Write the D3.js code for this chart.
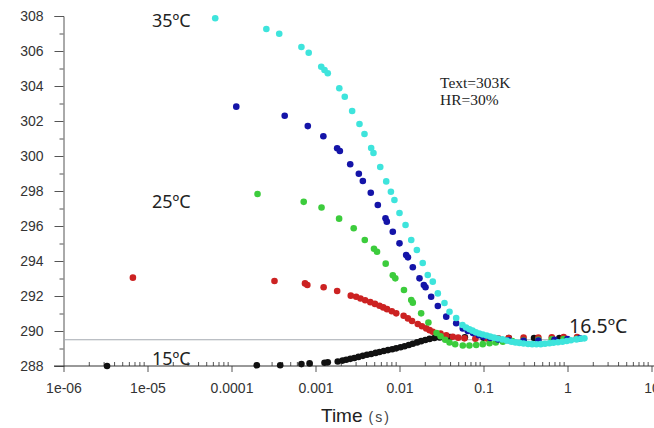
<!DOCTYPE html>
<html>
<head>
<meta charset="utf-8">
<script src="https://cdn.jsdelivr.net/npm/d3@7"></script>
<style>
  body { margin: 0; background: #fff; }
  svg { display: block; }
</style>
</head>
<body>
<div id="chart"></div>
<script>
// readings: [time (s), temperature (K)]
const s35 = [[6.4e-5,307.87],[2.6e-4,307.26],[3.7e-4,306.99],[6.8e-4,306.23],[8.3e-4,305.90],[1.17e-3,305.10],
  [1.28e-3,304.91],[1.40e-3,304.73],[1.92e-3,303.87],[2.23e-3,303.39],[2.73e-3,302.57],[3.34e-3,301.83],
  [3.83e-3,301.26],[4.6e-3,300.46],[4.9e-3,300.17],[5.9e-3,299.37],[6.95e-3,298.55],[7.9e-3,297.96],
  [8.7e-3,297.49],[0.0100,296.74],[0.0118,296.06],[0.0138,295.2],[0.0161,294.63],[0.0189,293.89],
  [0.0217,293.2],[0.0249,292.82],[0.0286,292.15],[0.0343,291.6],[0.0394,291.1],[0.0473,290.74],
  [0.0562,290.34],[0.062,290.2],[0.068,290.1],[0.074,290.02],[0.081,289.93],[0.089,289.86],[0.098,289.8],
  [0.109,289.74],[0.12,289.68],[0.133,289.62],[0.148,289.57],[0.168,289.52],[0.19,289.45],[0.215,289.39],
  [0.24,289.35],[0.268,289.32],[0.3,289.29],[0.34,289.26],[0.38,289.25],[0.427,289.24],[0.48,289.25],
  [0.54,289.27],[0.61,289.3],[0.68,289.33],[0.77,289.36],[0.87,289.39],[0.98,289.43],[1.1,289.47],
  [1.28,289.52],[1.45,289.56],[1.59,289.58]]

const s30 = [[1.14e-4,302.82],[4.3e-4,302.30],[8.1e-4,301.71],[1.24e-3,301.13],[1.81e-3,300.44],[1.95e-3,300.29],
  [2.59e-3,299.53],[3.28e-3,298.99],[3.66e-3,298.57],[4.55e-3,297.90],[5.52e-3,297.2],[6.81e-3,296.44],
  [7.06e-3,296.25],[8.32e-3,295.67],[0.0100,295.01],[0.0120,294.34],[0.0126,294.21],[0.0144,293.64],
  [0.0173,293.01],[0.0195,292.63],[0.0204,292.50],[0.0238,291.96],[0.0286,291.43],[0.036,290.82],
  [0.0473,290.44],[0.0567,290.15],[0.065,290.0],[0.075,289.88],[0.088,289.76],[0.1,289.68],[0.12,289.6],
  [0.15,289.52],[0.2,289.47],[0.3,289.44],[0.45,289.45],[0.7,289.5],[1.0,289.54],[1.4,289.58]]

const s25 = [[2.04e-4,297.83],[7.24e-4,297.38],[1.18e-3,297.06],[1.91e-3,296.42],[2.85e-3,295.87],[3.86e-3,295.2],
  [4.97e-3,294.70],[5.40e-3,294.53],[6.85e-3,293.85],[8.32e-3,293.18],[8.91e-3,293.01],[0.0113,292.34],
  [0.0138,291.77],[0.0144,291.62],[0.0181,291.01],[0.0221,290.49],[0.0276,289.89],[0.0308,289.7],
  [0.035,289.5],[0.0394,289.34],[0.046,289.24],[0.0567,289.17],[0.068,289.17],[0.0819,289.2],[0.098,289.25],
  [0.118,289.30],[0.14,289.35],[0.170,289.39],[0.22,289.43],[0.3,289.46],[0.45,289.5],[0.65,289.52],
  [0.9,289.54],[1.3,289.56]]

const s20 = [[6.7e-6,293.05],[3.25e-4,292.86],[7.5e-4,292.72],[8.0e-4,292.63],[1.25e-3,292.50],[1.81e-3,292.29],
  [2.63e-3,292.02],[3.05e-3,291.96],[3.43e-3,291.86],[3.9e-3,291.76],[4.49e-3,291.65],[5.1e-3,291.55],
  [5.78e-3,291.44],[6.4e-3,291.35],[7.1e-3,291.25],[8.1e-3,291.13],[9.14e-3,291.01],[0.0112,290.87],
  [0.0126,290.72],[0.0141,290.57],[0.0165,290.4],[0.0185,290.27],[0.0208,290.15],[0.0228,290.05],
  [0.0249,289.96],[0.0308,289.85],[0.036,289.76],[0.0431,289.67],[0.05,289.62],[0.0594,289.58],[0.08,289.56],
  [0.11,289.57],[0.15,289.58],[0.2,289.6],[0.3,289.62],[0.45,289.63],[0.65,289.64],[0.9,289.65],[1.3,289.65]]

const s15 = [[3.3e-6,288.0],[2.0e-4,288.04],[3.8e-4,288.04],[6.8e-4,288.11],[8.5e-4,288.15],[1.28e-3,288.19],
  [1.4e-3,288.21],[1.84e-3,288.26],[2.1e-3,288.31],[2.32e-3,288.36],[2.6e-3,288.41],[2.9e-3,288.46],
  [3.25e-3,288.52],[3.66e-3,288.58],[4.1e-3,288.64],[4.6e-3,288.69],[5.2e-3,288.75],[5.78e-3,288.8],
  [6.5e-3,288.86],[7.3e-3,288.91],[8.2e-3,288.96],[9.14e-3,289.01],[0.0103,289.07],[0.0115,289.13],
  [0.0129,289.2],[0.0144,289.27],[0.0162,289.35],[0.0181,289.42],[0.0203,289.49],[0.0228,289.55],
  [0.026,289.6],[0.03,289.63],[0.04,289.65],[0.06,289.64],[0.1,289.62],[0.2,289.6],[0.4,289.6],
  [0.8,289.6],[1.3,289.6]]

const seriesColours = ["#111111", "#cc2222", "#3ccc3c", "#1414a8", "#3ee4dc"]
const xTicks = [1e-6, 1e-5, 1e-4, 1e-3, 1e-2, 0.1, 1, 10]
const xTickLabels = ["1e-06", "1e-05", "0.0001", "0.001", "0.01", "0.1", "1", "10"]
const yTicks = [288, 290, 292, 294, 296, 298, 300, 302, 304, 306, 308]
const refTemp = 289.5

let svg = d3.select("#chart")
    .append("svg")
    .attr("width", 654)
    .attr("height", 428)

let x = d3.scaleLog().domain([1e-6, 10]).range([63.5, 651.5])
let y = d3.scaleLinear().domain([288, 308]).range([366, 16])

// minor ticks
let xMinor = []
xTicks.slice(0, -1).forEach(d => { for (let k = 2; k < 10; k++) xMinor.push(d * k) })
let yMinor = yTicks.slice(0, -1).map(d => d + 1)

// left axis
let yAxis = svg.append("g")
    .attr("transform", "translate(63.5,0)")
    .call(d3.axisLeft(y).tickValues(yTicks).tickSize(9).tickPadding(11).tickFormat(d3.format("d")))
yAxis.select(".domain").attr("stroke", "#555")
svg.append("g")
    .attr("transform", "translate(63.5,0)")
    .call(d3.axisLeft(y).tickValues(yMinor).tickSize(4).tickFormat(""))
    .call(g => g.select(".domain").remove())

// bottom axis
let xAxis = svg.append("g")
    .attr("transform", "translate(0,366)")
    .call(d3.axisBottom(x).tickValues(xTicks).tickSize(6).tickPadding(11).tickFormat((d, i) => xTickLabels[i]))
xAxis.select(".domain").remove()
svg.append("g")
    .attr("transform", "translate(0,366)")
    .call(d3.axisTop(x).tickValues(xMinor).tickSize(4).tickFormat(""))
    .call(g => g.select(".domain").remove())
svg.append("line")
    .attr("x1", 54).attr("x2", 654)
    .attr("y1", 366).attr("y2", 366)
    .attr("stroke", "#333")

svg.selectAll(".tick line").attr("stroke", "#555")
svg.selectAll(".tick text")
    .attr("fill", "#333")
    .style("font-family", "'Liberation Sans', Arial, sans-serif")
    .style("font-size", "14px")

// reference line
svg.append("line")
    .attr("x1", x(1e-6)).attr("x2", x(1.5))
    .attr("y1", y(refTemp)).attr("y2", y(refTemp))
    .attr("stroke", "#a4aab0")
    .attr("stroke-width", 1.2)

// points
let all = [s15, s20, s25, s30, s35]
all.forEach((s, i) => {
    svg.append("g")
        .selectAll("circle")
        .data(s)
        .join("circle")
        .attr("cx", d => x(d[0]))
        .attr("cy", d => y(d[1]))
        .attr("r", 3.3)
        .attr("fill", seriesColours[i])
})

// labels
let lab = (txt, px, py, size) => svg.append("text")
    .attr("x", px).attr("y", py)
    .attr("fill", "#222")
    .style("font-family", "'Noto Sans', sans-serif")
    .style("font-size", size + "px")
    .text(txt)
lab("35ºC", 152, 27, 18)
lab("25ºC", 152, 208, 18)
lab("15ºC", 152, 365, 18)
lab("16.5ºC", 569, 333, 19.5)

let note = svg.append("text")
    .attr("fill", "#222")
    .style("font-family", "'Liberation Serif', 'Times New Roman', serif")
    .style("font-size", "15.5px")
note.append("tspan").attr("x", 440).attr("y", 88).text("Text=303K")
note.append("tspan").attr("x", 440).attr("y", 105).text("HR=30%")

let title = svg.append("text")
    .attr("x", 321).attr("y", 421.5)
    .attr("fill", "#222")
    .style("font-family", "'Liberation Sans', Arial, sans-serif")
    .style("font-size", "19px")
title.append("tspan").text("Time")
title.append("tspan").attr("dx", 6).style("font-size", "14px").attr("fill", "#444").text("(")
title.append("tspan").attr("dx", 2).style("font-size", "14px").attr("fill", "#444").text("s")
title.append("tspan").attr("dx", 2).style("font-size", "14px").attr("fill", "#444").text(")")
</script>
</body>
</html>
